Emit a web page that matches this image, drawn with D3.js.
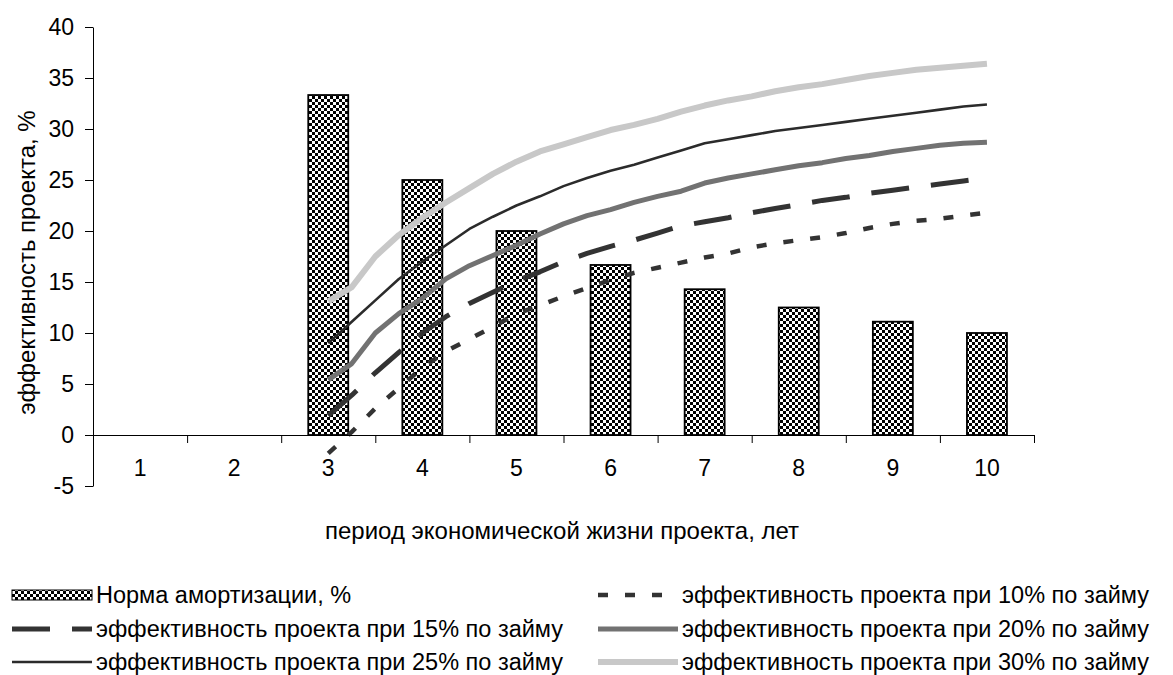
<!DOCTYPE html>
<html>
<head>
<meta charset="utf-8">
<script src="https://cdn.jsdelivr.net/npm/d3@7"></script>
<style>
  body { margin: 0; background: #fff; }
  text { font-family: "Liberation Sans", Arial, sans-serif; fill: #000; }
</style>
</head>
<body>
<svg id="chart" width="1173" height="675"></svg>
<script>
// ---------- DATA ----------
const categories = ["1", "2", "3", "4", "5", "6", "7", "8", "9", "10"];
const amortization = [null, null, 33.33, 25, 20, 16.67, 14.29, 12.5, 11.11, 10];
const yTicks = [-5, 0, 5, 10, 15, 20, 25, 30, 35, 40];

const linePeriods = [3, 3.25, 3.5, 3.75, 4, 4.25, 4.5, 4.75, 5, 5.25, 5.5, 5.75, 6, 6.25, 6.5, 6.75,
  7, 7.25, 7.5, 7.75, 8, 8.25, 8.5, 8.75, 9, 9.25, 9.5, 9.75, 10];
const eff10 = [-1.8, 0.3, 2.6, 4.6, 6.6, 8.2, 9.4, 10.6, 11.9, 12.7, 13.6, 14.4, 15.2, 15.9, 16.4, 16.9,
  17.4, 17.8, 18.4, 18.8, 19.1, 19.4, 19.8, 20.3, 20.7, 21.0, 21.2, 21.5, 21.8];
const eff15 = [1.9, 3.9, 6.1, 8.1, 10.0, 11.6, 12.9, 14.0, 15.1, 16.0, 17.0, 17.8, 18.5, 19.1, 19.8, 20.5,
  20.9, 21.3, 21.8, 22.2, 22.6, 23.0, 23.3, 23.7, 24.0, 24.3, 24.6, 24.9, 25.2];
const eff20 = [5.4, 7.0, 10.0, 11.9, 13.4, 15.3, 16.6, 17.6, 18.6, 19.7, 20.7, 21.5, 22.1, 22.8, 23.4, 23.9,
  24.7, 25.2, 25.6, 26.0, 26.4, 26.7, 27.1, 27.4, 27.8, 28.1, 28.4, 28.6, 28.7];
const eff25 = [9.0, 11.1, 13.2, 15.3, 17.0, 18.6, 20.2, 21.4, 22.5, 23.4, 24.4, 25.2, 25.9, 26.5, 27.2, 27.9,
  28.6, 29.0, 29.4, 29.8, 30.1, 30.4, 30.7, 31.0, 31.3, 31.6, 31.9, 32.2, 32.4];
const eff30 = [13.1, 14.5, 17.5, 19.6, 21.3, 22.8, 24.2, 25.6, 26.8, 27.8, 28.5, 29.2, 29.9, 30.4, 31.0, 31.7,
  32.3, 32.8, 33.2, 33.7, 34.1, 34.4, 34.8, 35.2, 35.5, 35.8, 36.0, 36.2, 36.4];

const barLabel = "Норма амортизации, %";
const seriesLabels = [
  "эффективность проекта при 10% по займу",
  "эффективность проекта при 15% по займу",
  "эффективность проекта при 20% по займу",
  "эффективность проекта при 25% по займу",
  "эффективность проекта при 30% по займу"
];
const yTitle = "эффективность проекта, %";
const xTitle = "период экономической жизни проекта, лет";

// ---------- LAYOUT ----------
const plotLeft = 93, plotRight = 1034, plotTop = 27, plotBottom = 486;
const svg = d3.select("#chart");
svg.append("rect").attr("width", 1173).attr("height", 675).attr("fill", "#fff");

const defs = svg.append("defs");
const pat = defs.append("pattern").attr("id", "checker").attr("patternUnits", "userSpaceOnUse")
  .attr("width", 6).attr("height", 6);
pat.append("rect").attr("width", 6).attr("height", 6).attr("fill", "#fff");
pat.append("rect").attr("x", 0).attr("y", 0).attr("width", 3).attr("height", 3).attr("fill", "#000");
pat.append("rect").attr("x", 3).attr("y", 3).attr("width", 3).attr("height", 3).attr("fill", "#000");

const y = d3.scaleLinear().domain([-5, 40]).range([plotBottom, plotTop]);
const xBand = d3.scaleBand().domain(categories).range([plotLeft, plotRight])
  .paddingInner(0.575).paddingOuter(0.2875);
const xLin = d3.scaleLinear().domain([0.5, 10.5]).range([plotLeft, plotRight]);

// Bars
svg.append("g").selectAll("rect")
  .data(categories.map((c, i) => ({ c, v: amortization[i] })).filter(d => d.v !== null))
  .join("rect")
  .attr("x", d => xBand(d.c))
  .attr("width", xBand.bandwidth())
  .attr("y", d => y(d.v))
  .attr("height", d => y(0) - y(d.v))
  .attr("fill", "url(#checker)")
  .attr("stroke", "#000")
  .attr("stroke-width", 1.8);

// Lines
const styles = [
  { data: eff10, color: "#333", width: 4.5, dash: "10,17" },
  { data: eff15, color: "#333", width: 5, dash: "38,22" },
  { data: eff20, color: "#727272", width: 5, dash: null },
  { data: eff25, color: "#2b2b2b", width: 2.6, dash: null },
  { data: eff30, color: "#c8c8c8", width: 6, dash: null }
];
const lineGen = d3.line().x((d, i) => xLin(linePeriods[i])).y(d => y(d));
styles.forEach(s => {
  svg.append("path")
    .attr("d", lineGen(s.data))
    .attr("fill", "none")
    .attr("stroke", s.color)
    .attr("stroke-width", s.width)
    .attr("stroke-dasharray", s.dash)
    .attr("stroke-linejoin", "round");
});

// Y axis
const yAxis = svg.append("g").attr("transform", `translate(${plotLeft},0)`)
  .call(d3.axisLeft(y).tickValues(yTicks).tickSize(8).tickPadding(11).tickSizeOuter(0)
    .tickFormat(d => String(d)));
yAxis.selectAll("text").style("font-size", "23px").attr("fill", "#000");
yAxis.selectAll("line, path").attr("stroke", "#000");

// X axis at zero: ticks at category boundaries
const bounds = [0.5, 1.5, 2.5, 3.5, 4.5, 5.5, 6.5, 7.5, 8.5, 9.5, 10.5];
const xAxis = svg.append("g").attr("transform", `translate(0,${y(0)})`)
  .call(d3.axisBottom(xLin).tickValues(bounds).tickSize(8).tickFormat("").tickSizeOuter(0));
xAxis.selectAll("line, path").attr("stroke", "#000");
const xLabels = svg.append("g").attr("transform", `translate(0,${y(0)})`)
  .call(d3.axisBottom(xBand).tickSize(0).tickPadding(25));
xLabels.select(".domain").remove();
xLabels.selectAll("text").style("font-size", "23px").attr("fill", "#000");

// Titles
svg.append("text").attr("transform", `translate(26,${(plotTop + plotBottom) / 2 + 6}) rotate(-90)`)
  .attr("text-anchor", "middle").attr("dominant-baseline", "central")
  .style("font-size", "24px").text(yTitle);
svg.append("text").attr("x", 562).attr("y", 530).attr("text-anchor", "middle")
  .attr("dominant-baseline", "central").style("font-size", "24px").text(xTitle);

// Legend
const legendItems = [
  { label: barLabel, type: "bar", col: 0, row: 0 },
  { label: seriesLabels[0], type: "line", s: styles[0], col: 1, row: 0 },
  { label: seriesLabels[1], type: "line", s: styles[1], col: 0, row: 1 },
  { label: seriesLabels[2], type: "line", s: styles[2], col: 1, row: 1 },
  { label: seriesLabels[3], type: "line", s: styles[3], col: 0, row: 2 },
  { label: seriesLabels[4], type: "line", s: styles[4], col: 1, row: 2 }
];
const colX = [12, 598], rowY = [595, 629, 662], swatchW = 80;
const lg = svg.append("g");
legendItems.forEach(it => {
  const x0 = colX[it.col], yy = rowY[it.row];
  if (it.type === "bar") {
    lg.append("rect").attr("x", x0).attr("y", yy - 5).attr("width", swatchW).attr("height", 10)
      .attr("fill", "url(#checker)").attr("stroke", "#000").attr("stroke-width", 1);
  } else {
    lg.append("line").attr("x1", x0).attr("x2", x0 + swatchW).attr("y1", yy).attr("y2", yy)
      .attr("stroke", it.s.color).attr("stroke-width", it.s.width)
      .attr("stroke-dasharray", it.s.dash);
  }
  lg.append("text").attr("x", x0 + swatchW + 4).attr("y", yy).attr("dominant-baseline", "central")
    .style("font-size", "23.5px").text(it.label);
});
</script>
</body>
</html>
